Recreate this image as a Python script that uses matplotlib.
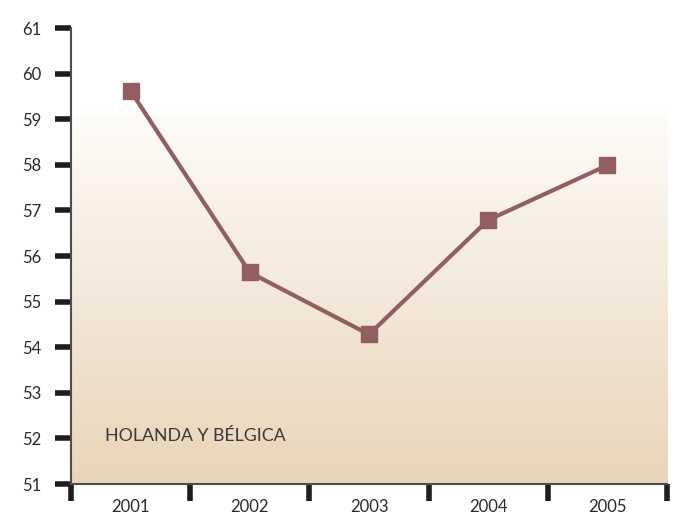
import numpy as np
import matplotlib.pyplot as plt
from matplotlib.colors import LinearSegmentedColormap

# datos
years = ['2001', '2002', '2003', '2004', '2005']
values = [59.62, 55.64, 54.28, 56.79, 57.99]
yticks = list(range(51, 62))

plt.rcParams['font.family'] = ['Lato', 'DejaVu Sans']

fig = plt.figure(figsize=(6.74, 5.16), dpi=100)
ax = fig.add_axes([0.1053, 0.062, 0.8843, 0.8837])

x = np.arange(len(years))
ax.set_xlim(-0.5, len(years) - 0.5)
ax.set_ylim(51, 61)

# fondo degradado (blanco arriba -> beige abajo)
cmap = LinearSegmentedColormap.from_list('bg', [(0.0, '#e9d4b8'), (0.80, '#fdfbf8'), (0.82, '#ffffff'), (1.0, '#ffffff')])
grad = np.linspace(0, 1, 256).reshape(-1, 1)
ax.imshow(grad, cmap=cmap, aspect='auto', origin='lower', extent=[0, 1, 0, 1],
          transform=ax.transAxes, zorder=0)

ax.plot(x, values, color='#925e5f', lw=3, marker='s', markersize=11, zorder=3)

ax.text(0.057, 0.105, 'HOLANDA Y BÉLGICA', transform=ax.transAxes, fontsize=12.8,
        color='#3a3a3a', va='center', ha='left')

for s in ['top', 'right']:
    ax.spines[s].set_visible(False)
for s in ['left', 'bottom']:
    ax.spines[s].set_color('#4d4d4d')
    ax.spines[s].set_linewidth(1.5)

ax.set_yticks(yticks)
ax.set_yticklabels([str(v) for v in yticks])
ax.tick_params(axis='y', length=11.5, width=4, color='#1e1e1e', pad=10,
               labelsize=12, labelcolor='#2a2a2a')

ax.set_xticks(x)
ax.set_xticklabels(years)
ax.tick_params(axis='x', which='major', length=0, pad=10.5, labelsize=12, labelcolor='#2a2a2a')
ax.set_xticks(np.arange(-0.5, len(years)), minor=True)
ax.tick_params(axis='x', which='minor', length=12, width=4, color='#1e1e1e')

fig.savefig('out.png', dpi=100)
